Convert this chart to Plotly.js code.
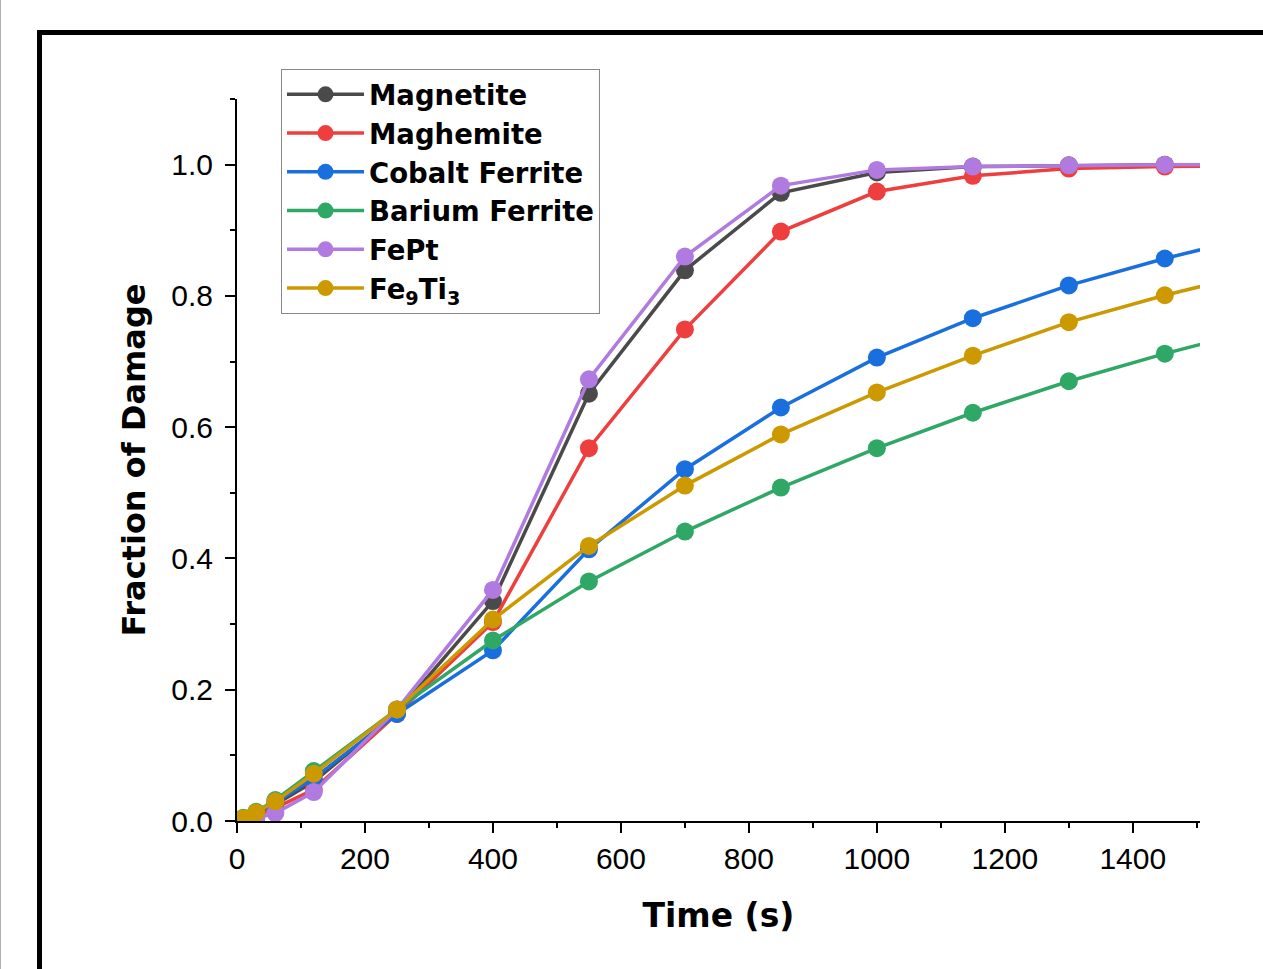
<!DOCTYPE html>
<html>
<head>
<meta charset="utf-8">
<script src="https://cdn.plot.ly/plotly-3.0.1.min.js"></script>
<style>
  html, body { margin: 0; padding: 0; background: #ffffff; overflow: hidden; }
  #wrap { position: relative; width: 1263px; height: 969px; overflow: hidden; background: #fff; }
  #edge { position: absolute; left: 0; top: 0; width: 1px; height: 969px; background: #b0b0b0; }
  #frame { position: absolute; left: 37px; top: 30px; width: 1400px; height: 1100px; border: 5px solid #000; box-sizing: border-box; }
  #chart { position: absolute; left: 0; top: 0; width: 1263px; height: 969px; }
</style>
</head>
<body>
<div id="wrap">
  <div id="edge"></div>
  <div id="frame"></div>
  <div id="chart"></div>
</div>
<script>
// Time points (s)
const time = [10, 30, 60, 120, 250, 400, 550, 700, 850, 1000, 1150, 1300, 1450, 1600];

// Fraction of damage per material
const magnetite     = [0.003, 0.010, 0.025, 0.060, 0.165, 0.335, 0.651, 0.839, 0.957, 0.988, 0.997, 0.999, 1.000, 1.000];
const maghemite     = [0.002, 0.008, 0.020, 0.048, 0.163, 0.303, 0.568, 0.749, 0.898, 0.959, 0.983, 0.994, 0.997, 0.999];
const cobaltFerrite = [0.004, 0.012, 0.028, 0.065, 0.163, 0.260, 0.414, 0.536, 0.630, 0.706, 0.766, 0.816, 0.857, 0.893];
const bariumFerrite = [0.005, 0.014, 0.032, 0.076, 0.170, 0.275, 0.365, 0.441, 0.508, 0.568, 0.622, 0.670, 0.712, 0.750];
const fePt          = [0.001, 0.004, 0.012, 0.044, 0.170, 0.352, 0.673, 0.860, 0.968, 0.992, 0.997, 0.999, 1.000, 1.000];
const fe9Ti3        = [0.004, 0.013, 0.030, 0.072, 0.170, 0.307, 0.419, 0.511, 0.589, 0.653, 0.709, 0.760, 0.801, 0.837];

const names  = ['Magnetite', 'Maghemite', 'Cobalt Ferrite', 'Barium Ferrite', 'FePt', 'Fe<sub>9</sub>Ti<sub>3</sub>'];
const series = [magnetite, maghemite, cobaltFerrite, bariumFerrite, fePt, fe9Ti3];
const colors = ['#4a4a4a', '#ef3e3e', '#1a6fdf', '#2fa866', '#b07ae0', '#cc9900'];

const traces = series.map((ys, i) => ({
  x: time,
  y: ys,
  name: names[i],
  type: 'scatter',
  mode: 'lines+markers',
  line: { color: colors[i], width: 3.5 },
  marker: { color: colors[i], size: 18 },
  cliponaxis: true
}));

const boldFont = 'DejaVu Sans, Liberation Sans, Arial, sans-serif';

const layout = {
  width: 1263,
  height: 969,
  paper_bgcolor: 'rgba(0,0,0,0)',
  plot_bgcolor: 'rgba(0,0,0,0)',
  margin: { l: 237, r: 63, t: 99, b: 148 },
  font: { family: 'Liberation Sans, Arial, sans-serif', color: '#000' },
  showlegend: true,
  legend: {
    x: 0.0457, y: 1.0416, xanchor: 'left', yanchor: 'top',
    bgcolor: '#ffffff', bordercolor: '#888888', borderwidth: 1,
    font: { family: boldFont, size: 27.5, color: '#000', weight: 'bold' },
    itemwidth: 77,
    tracegroupgap: 0
  },
  xaxis: {
    range: [0, 1505],
    showgrid: false, zeroline: false,
    showline: true, linecolor: '#000', linewidth: 2,
    ticks: 'outside', ticklen: 10, tickwidth: 2, tickcolor: '#000',
    tick0: 0, dtick: 200,
    minor: { ticks: 'outside', ticklen: 5, tickwidth: 2, tickcolor: '#000', dtick: 100 },
    tickfont: { family: 'Liberation Sans, Arial, sans-serif', size: 30, color: '#000' },
    title: { text: 'Time (s)', font: { family: boldFont, size: 33, color: '#000', weight: 'bold' }, standoff: 30 }
  },
  yaxis: {
    range: [0, 1.1],
    showgrid: false, zeroline: false,
    showline: true, linecolor: '#000', linewidth: 2,
    ticks: 'outside', ticklen: 10, tickwidth: 2, tickcolor: '#000',
    tick0: 0, dtick: 0.2, tickformat: '.1f',
    ticklabelstandoff: 6,
    minor: { ticks: 'outside', ticklen: 5, tickwidth: 2, tickcolor: '#000', dtick: 0.1 },
    tickfont: { family: 'Liberation Sans, Arial, sans-serif', size: 30, color: '#000' },
    title: { text: 'Fraction of Damage', font: { family: boldFont, size: 32, color: '#000', weight: 'bold' }, standoff: 16 }
  }
};

Plotly.newPlot('chart', traces, layout, { displayModeBar: false, staticPlot: true });
</script>
</body>
</html>
